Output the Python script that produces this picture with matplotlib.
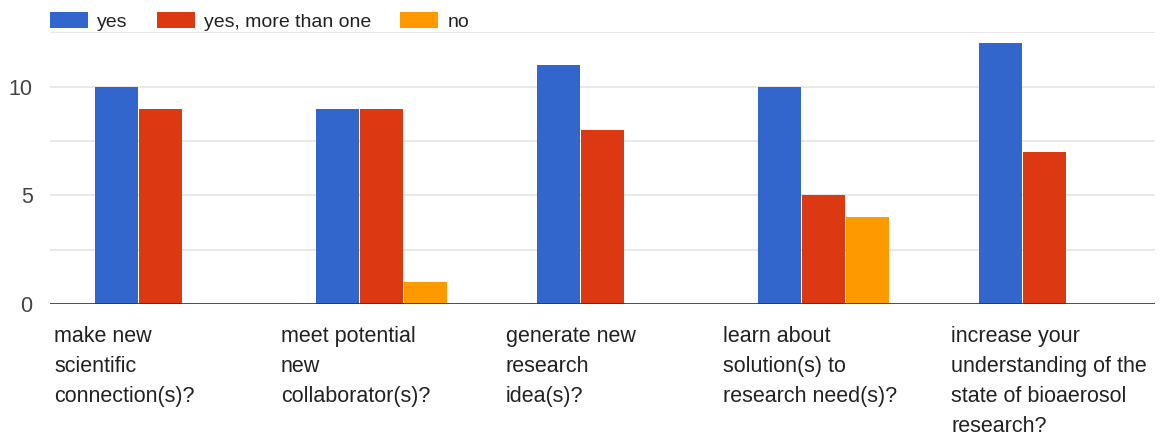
import matplotlib
matplotlib.use("Agg")
import matplotlib.pyplot as plt
import numpy as np

categories = [
    "make new\nscientific\nconnection(s)?",
    "meet potential\nnew\ncollaborator(s)?",
    "generate new\nresearch\nidea(s)?",
    "learn about\nsolution(s) to\nresearch need(s)?",
    "increase your\nunderstanding of the\nstate of bioaerosol\nresearch?",
]
series_names = ["yes", "yes, more than one", "no"]
yes_vals = [10, 9, 11, 10, 12]
more_vals = [9, 9, 8, 5, 7]
no_vals = [0, 1, 0, 4, 0]
colors = ["#3366cc", "#dc3912", "#ff9900"]
y_ticks = [0, 5, 10]

# layout: left offset of each wrapped label from its group centre (group units)
label_offsets = [-0.482, -0.455, -0.437, -0.455, -0.423]

plt.rcParams['font.family'] = ['Liberation Sans', 'DejaVu Sans']

W, H = 1165, 437
fig = plt.figure(figsize=(W / 100, H / 100), dpi=100)
ax = fig.add_axes([50 / W, 1 - 304 / H, 1105 / W, (304 - 32.5) / H])

x = np.arange(len(categories))
bw = 0.2
for k, (vals, name, c) in enumerate(zip([yes_vals, more_vals, no_vals], series_names, colors)):
    ax.bar(x + (k - 1) * bw, vals, width=bw * 0.985, color=c, label=name, zorder=3, linewidth=0)

ax.set_xlim(-0.5, len(categories) - 0.5)
ax.set_ylim(0, 12.5)
ax.set_yticks(y_ticks)
ax.set_yticks([2.5, 7.5, 12.5], minor=True)
ax.grid(axis='y', which='both', color='#e4e4e4', linewidth=1.2, zorder=0)
ax.axhline(0, color='#333333', linewidth=1.2, zorder=4)
for s in ax.spines.values():
    s.set_visible(False)
ax.tick_params(axis='y', which='both', length=0, labelsize=15.5, labelcolor='#444444', pad=12.5)

ax.set_xticks(x + np.array(label_offsets))
ax.set_xticklabels(categories, ha='left', va='top', fontsize=15.5, color='#222222', linespacing=1.56)
ax.tick_params(axis='x', length=0, pad=16)

leg = fig.legend(loc='upper left', bbox_to_anchor=(50 / W, 1 - 12 / H), ncol=3, frameon=False,
                 fontsize=14, handlelength=1.96, handleheight=0.88, handletextpad=0.46,
                 columnspacing=1.5, borderpad=0, borderaxespad=0)
for t in leg.get_texts():
    t.set_color('#222222')

fig.savefig("out.png", dpi=100)
